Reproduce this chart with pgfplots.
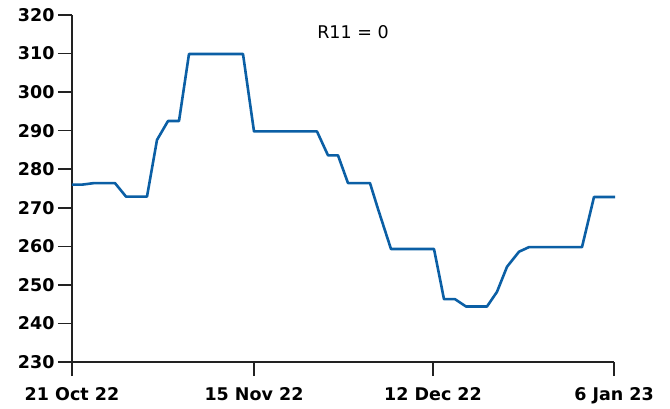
\documentclass[border=0pt]{standalone}
\usepackage{fontspec}
\setmainfont{DejaVu Sans}
\usepackage{pgfplots}
\pgfplotsset{compat=1.18}
\definecolor{lineblue}{HTML}{0B5FA5}
\definecolor{axisgray}{HTML}{222222}
\begin{document}
\begin{tikzpicture}
\begin{axis}[
    at={(0pt,0pt)}, anchor=south west,
    width=542pt, height=347pt, scale only axis,
    xmin=0, xmax=542,
    ymin=230, ymax=320,
    axis lines*=left,
    axis line style={axisgray, line width=1.5pt},
    xtick={0,182,361,542},
    xticklabels={21 Oct 22, 15 Nov 22, 12 Dec 22, 6 Jan 23},
    ytick distance=10,
    tick align=outside,
    major tick length=14pt,
    tick style={axisgray, line width=1.5pt},
    ticklabel style={font=\fontsize{17.5}{20}\selectfont\bfseries, text=black},
    xticklabel style={yshift=-8pt},
    /pgf/number format/assume math mode=true,
    clip=false,
]
% price series, x in pixel offsets from the first date
\addplot[color=lineblue, line width=2.6pt, line join=round] coordinates {
    (0,276.0) (10,276.0) (22,276.4) (43,276.4) (54,272.9) (75,272.9)
    (85,287.6) (96,292.5) (107,292.5) (117,309.9) (171,309.9)
    (182,289.8) (245,289.8) (256,283.6) (266,283.6) (276,276.4)
    (298,276.4) (306,269.7) (319,259.3) (362,259.3) (372,246.3)
    (383,246.3) (394,244.4) (415,244.4) (425,248.2) (435,254.7)
    (447,258.6) (457,259.8) (510,259.8) (522,272.8) (543,272.8)
};
\node[font=\fontsize{17.5}{20}\selectfont] at (axis cs:281,320) [yshift=-17pt] {R11 = 0};
\end{axis}
\path (-72pt,-46pt) rectangle (598pt,362pt);
\end{tikzpicture}
\end{document}
